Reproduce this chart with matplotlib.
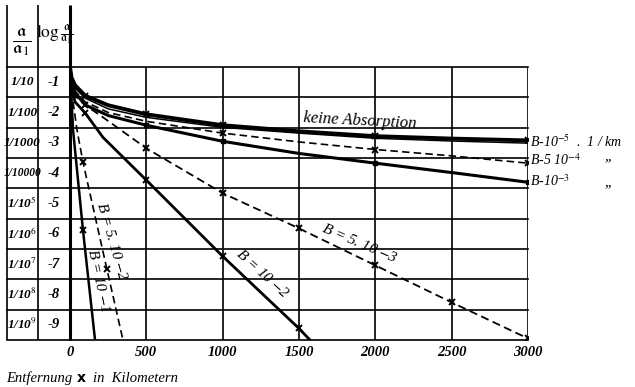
import matplotlib.pyplot as plt

# Entfernung in km and log(a/a1) for each curve
km_keine = [0, 10, 33, 100, 250, 500, 1000, 1500, 2000, 2500, 3000]
log_keine = [-0.5, -0.85, -1.1, -1.45, -1.76, -2.06, -2.42, -2.62, -2.78, -2.86, -2.92]
mark_keine = [3, 5, 6, 8, 10]

km_b1e5 = [0, 10, 33, 100, 250, 500, 1000, 1500, 2000, 2500, 3000]
log_b1e5 = [-0.5, -0.9, -1.2, -1.53, -1.88, -2.16, -2.49, -2.68, -2.85, -2.94, -3.01]

km_b5e4 = [0, 10, 33, 100, 250, 500, 1000, 1500, 2000, 2500, 3000]
log_b5e4 = [-0.5, -0.95, -1.3, -1.65, -2.0, -2.29, -2.68, -2.97, -3.22, -3.43, -3.67]
mark_b5e4 = [6, 8, 10]

km_b1e3 = [0, 10, 33, 100, 250, 500, 1000, 1500, 2000, 2500, 3000]
log_b1e3 = [-0.5, -1.0, -1.35, -1.75, -2.1, -2.42, -2.95, -3.35, -3.67, -3.98, -4.30]
mark_b1e3 = [5, 6, 8, 10]

km_b5e3 = [0, 10, 33, 100, 200, 500, 1000, 1500, 2000, 2500, 3000]
log_b5e3 = [-0.5, -1.05, -1.45, -1.76, -2.1, -3.18, -4.66, -5.82, -7.04, -8.26, -9.45]
mark_b5e3 = [3, 5, 6, 7, 8, 9, 10]

km_b1e2 = [0, 10, 33, 100, 216, 500, 1000, 1500, 1572]
log_b1e2 = [-0.5, -1.2, -1.65, -2.02, -2.82, -4.23, -6.74, -9.12, -9.5]
mark_b1e2 = [3, 5, 6, 7]

km_b5e2 = [0, 5, 13, 46, 85, 242, 347]
log_b5e2 = [-0.5, -1.0, -1.4, -2.58, -3.64, -7.17, -9.5]
mark_b5e2 = [4, 5]

km_b1e1 = [0, 7, 20, 85, 164]
log_b1e1 = [-0.5, -1.26, -2.58, -5.88, -9.5]
mark_b1e1 = [3]

x_ticks = [0, 500, 1000, 1500, 2000, 2500, 3000]
ratio_labels = ["1/10", "1/100", "1/1000", "1/10000", "1/10$^5$",
                "1/10$^6$", "1/10$^7$", "1/10$^8$", "1/10$^9$"]
log_labels = ["-1", "-2", "-3", "-4", "-5", "-6", "-7", "-8", "-9"]

plt.rcParams["mathtext.fontset"] = "stix"
serif = "Liberation Serif"

fig = plt.figure(figsize=(6.35, 3.87), dpi=100)
ax = fig.add_axes([70 / 635, 47 / 387, 458 / 635, 273 / 387])
ax.set_xlim(0, 3000)
ax.set_ylim(-9.5, -0.5)

# grid, with the horizontal lines running on into the label table
for v in range(0, 10):
    ax.axhline(-0.5 - v, xmin=-0.1376, xmax=1, color="black", lw=1.2, clip_on=False)
for x in x_ticks[1:]:
    ax.axvline(x, color="black", lw=1.2)
for sp in ax.spines.values():
    sp.set_visible(False)

# vertical table lines and the zero axis, reaching up into the header
for xa, lw in [(-0.1376, 1.2), (-0.0699, 1.2), (0.0, 2.2)]:
    ax.plot([xa, xa], [0, 1.227], transform=ax.transAxes, color="black",
            lw=lw, clip_on=False, solid_capstyle="butt")

dash = (0, (4.5, 2.5))
mk = dict(marker="x", ms=5, mew=1.4, mec="black")
ax.plot(km_keine, log_keine, color="black", lw=2.8, markevery=mark_keine, **mk)
ax.plot(km_b1e5, log_b1e5, color="black", lw=1.1)
ax.plot(km_b5e4, log_b5e4, color="black", lw=1.2, ls=dash, markevery=mark_b5e4, **mk)
ax.plot(km_b1e3, log_b1e3, color="black", lw=2.2, markevery=mark_b1e3,
        marker="s", ms=3.5, mfc="black", mec="black")
ax.plot(km_b5e3, log_b5e3, color="black", lw=1.3, ls=dash, markevery=mark_b5e3, **mk)
ax.plot(km_b1e2, log_b1e2, color="black", lw=2.0, markevery=mark_b1e2, **mk)
ax.plot(km_b5e2, log_b5e2, color="black", lw=1.2, ls=dash, markevery=mark_b5e2, **mk)
ax.plot(km_b1e1, log_b1e1, color="black", lw=1.8, markevery=mark_b1e1, **mk)

ax.set_xticks(x_ticks)
ax.set_xticklabels([str(t) for t in x_ticks], family=serif, style="italic",
                   weight="bold", fontsize=10.5)
ax.tick_params(axis="x", length=0, pad=4)
ax.set_yticks([])

# label table on the left
ytr = ax.get_yaxis_transform()
for i in range(9):
    fs = 8.3 if i == 3 else 9.5
    ax.text(-0.104, -1 - i, ratio_labels[i], transform=ytr, ha="center", va="center",
            family=serif, style="italic", weight="bold", fontsize=fs)
    ax.text(-0.036, -1 - i, log_labels[i], transform=ytr, ha="center", va="center",
            family=serif, style="italic", weight="bold", fontsize=10.5)
ax.text(-0.106, 1.09, r"$\frac{\mathfrak{a}}{\mathfrak{a}_1}$", transform=ax.transAxes,
        ha="center", va="center", fontsize=19)
ax.text(-0.034, 1.12, r"$\log\frac{\mathfrak{a}}{\mathfrak{a}_1}$", transform=ax.transAxes,
        ha="center", va="center", fontsize=12.5)

# curve labels
lab = dict(family=serif, style="italic", color="black", clip_on=False)
ax.text(1900, -2.5, "keine Absorption", rotation=-3, fontsize=12,
        ha="center", va="baseline", **lab)
ax.text(3015, -2.95, "B-10$^{-5}$  .  1 / km", fontsize=10, ha="left", va="center", **lab)
ax.text(3015, -3.58, "B-5 10$^{-4}$", fontsize=10, ha="left", va="center", **lab)
ax.text(3015, -4.25, "B-10$^{-3}$", fontsize=10, ha="left", va="center", **lab)
ax.text(3500, -3.45, ",,", fontsize=11, ha="left", va="center", **lab)
ax.text(3500, -4.30, ",,", fontsize=11, ha="left", va="center", **lab)
ax.text(1900, -6.3, "B = 5. 10 $-$3", rotation=-23, fontsize=11,
        ha="center", va="center", **lab)
ax.text(1260, -7.3, "B = 10 $-$2", rotation=-42, fontsize=11,
        ha="center", va="center", **lab)
ax.text(275, -6.25, "B = 5. 10 $-$2", rotation=-74, fontsize=11,
        ha="center", va="center", **lab)
ax.text(185, -7.55, "B = 10 $-$1", rotation=-78, fontsize=11,
        ha="center", va="center", **lab)

fig.text(6 / 635, 1 - 378 / 387, "Entfernung", family=serif, style="italic",
         fontsize=10.5, va="center")
fig.text(77 / 635, 1 - 378 / 387, "x", family="DejaVu Sans", weight="bold",
         fontsize=10, va="center")
fig.text(93 / 635, 1 - 378 / 387, "in  Kilometern", family=serif, style="italic",
         fontsize=10.5, va="center")

fig.savefig("out.png", dpi=100)
